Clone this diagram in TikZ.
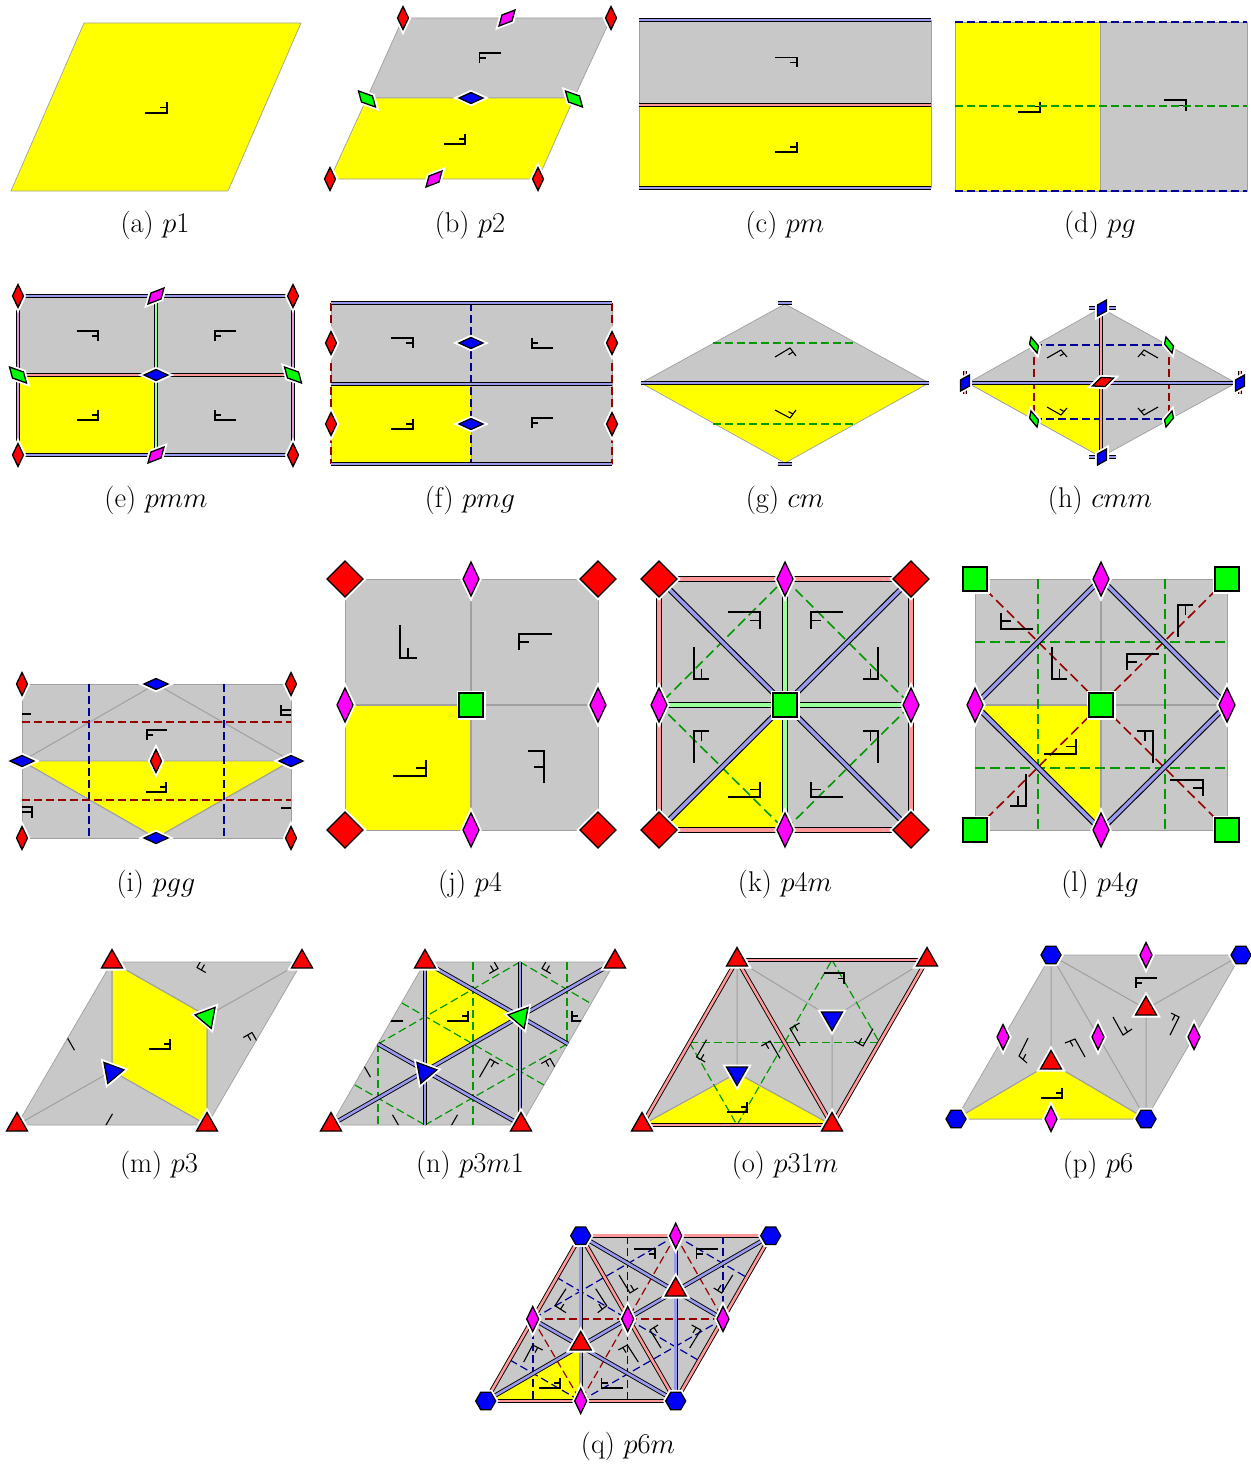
\documentclass[tikz,border=0pt]{standalone}
\usepackage{fix-cm}
\usetikzlibrary{calc}
\definecolor{cy}{HTML}{FFFF00}
\definecolor{cg}{HTML}{C8C8C8}
\definecolor{ln}{HTML}{A0A0A0}
\definecolor{cr}{HTML}{FF0000}
\definecolor{cn}{HTML}{00FF00}
\definecolor{cb}{HTML}{0000FF}
\definecolor{cm}{HTML}{FF00FF}
\definecolor{ib}{HTML}{9999EE}
\definecolor{ip}{HTML}{FF9999}
\definecolor{in}{HTML}{99FF99}
\definecolor{iv}{HTML}{DD99DD}
\definecolor{dg}{HTML}{009900}
\definecolor{dr}{HTML}{990000}
\definecolor{db}{HTML}{000099}
\tikzset{
 cellY/.style={fill=cy,draw=ln,line width=.7pt,line join=round},
 cellG/.style={fill=cg,draw=ln,line width=.7pt,line join=round},
 rib/.style={draw=ln,line width=1pt},
 motif/.style={draw=black,line width=1.1pt,line join=miter},
 bigmotif/.style={motif,line width=1.5pt},
 mirB/.style={draw=black,line width=.9pt,double=ib,double distance=2.6pt},
 mirP/.style={draw=black,line width=.9pt,double=ip,double distance=2.6pt},
 mirN/.style={draw=black,line width=.9pt,double=in,double distance=2.6pt},
 mirV/.style={draw=black,line width=.9pt,double=iv,double distance=2.6pt},
 bigmir/.style={line width=1.1pt,double distance=3.4pt},
 glN/.style={draw=dg,line width=1.2pt,dash pattern=on 8pt off 4pt},
 glR/.style={draw=dr,line width=1.2pt,dash pattern=on 8pt off 4pt},
 glB/.style={draw=db,line width=1.2pt,dash pattern=on 8pt off 4pt},
 bigdash/.style={line width=1.6pt,dash pattern=on 10pt off 5pt},
 halo/.style={draw=white,line width=5pt},
 centre/.style={draw=black,line width=1.3pt},
 caption/.style={inner sep=0pt,font=\fontsize{28.5}{32}\selectfont}
}
% corner x y, long arm, short arm
\newcommand{\mtf}[6]{\draw[motif] ($(#1,#2)+(#3,#4)$) -- (#1,#2) -- ($(#1,#2)+(#5,#6)$) ($(#1,#2)+0.5*(#5,#6)$) -- ($(#1,#2)+0.5*(#5,#6)+0.3*(#3,#4)$);}
\newcommand{\rmb}[7]{\begin{scope}[shift={(#1,#2)}]
 \draw[halo] (#3,#4) -- (#5,#6) -- ({-(#3)},{-(#4)}) -- ({-(#5)},{-(#6)}) -- cycle;
 \draw[centre,fill=#7] (#3,#4) -- (#5,#6) -- ({-(#3)},{-(#4)}) -- ({-(#5)},{-(#6)}) -- cycle;
 \end{scope}}
\newcommand{\trg}[4]{\begin{scope}[shift={(#1,#2)},rotate=#3]
 \draw[halo] (0,-12.5) -- (10.5,6) -- (-10.5,6) -- cycle;
 \draw[centre,fill=#4] (0,-12.5) -- (10.5,6) -- (-10.5,6) -- cycle;
 \end{scope}}
\newcommand{\hxg}[3]{\begin{scope}[shift={(#1,#2)}]
 \draw[halo] (-10,0) -- (-5,-8.7) -- (5,-8.7) -- (10,0) -- (5,8.7) -- (-5,8.7) -- cycle;
 \draw[centre,fill=#3] (-10,0) -- (-5,-8.7) -- (5,-8.7) -- (10,0) -- (5,8.7) -- (-5,8.7) -- cycle;
 \end{scope}}
\newcommand{\sqg}[2]{\begin{scope}[shift={(#1,#2)}]
 \draw[halo] (-12,-12) rectangle (12,12);
 \draw[centre,line width=1.6pt,fill=cn] (-12,-12) rectangle (12,12);
 \end{scope}}
\newcommand{\rv}[2]{\rmb{#1}{#2}{0}{-11.5}{5.5}{0}{cr}}
\newcommand{\bh}[2]{\rmb{#1}{#2}{-12}{0}{0}{5.5}{cb}}
\newcommand{\mgs}[2]{\rmb{#1}{#2}{8}{-8}{5}{3}{cm}}
\newcommand{\grs}[2]{\rmb{#1}{#2}{-8.5}{-8}{5.5}{-3}{cn}}
\newcommand{\rbig}[2]{\rmb{#1}{#2}{0}{-18}{18}{0}{cr}}
\newcommand{\mbig}[2]{\rmb{#1}{#2}{0}{-17}{8}{0}{cm}}
\newcommand{\mmid}[2]{\rmb{#1}{#2}{0}{-12.5}{6}{0}{cm}}
\begin{document}
\begin{tikzpicture}[x=1pt,y=-1pt]
\useasboundingbox (0,0) rectangle (1250,1464);
\fill[white] (0,0) rectangle (1250,1464);

% (a) p1
\draw[cellY] (84,23) -- (301,23) -- (228,191) -- (11,191) -- cycle;
\mtf{167}{113}{-22}{0}{0}{-11}
\node[caption] (capa) at (155,225) {(a) $p1$};

% (b) p2
\draw[cellG] (403,18) -- (611,18) -- (574,98) -- (367,98) -- cycle;
\draw[cellY] (367,98) -- (574,98) -- (538,179) -- (330,179) -- cycle;
\mtf{465}{144}{-21}{0}{0}{-10}
\mtf{479.5}{53}{21}{0}{0}{10}
\rv{403}{18} \rv{611}{18} \rv{330}{179} \rv{538}{179}
\mgs{507}{18} \mgs{434}{179} \grs{367}{99} \grs{574}{99}
\bh{471}{98}
\node[caption] (capb) at (470,225) {(b) $p2$};

% (c) pm
\fill[cg] (639,20) rectangle (931,105);
\fill[cy] (639,105) rectangle (931,188);
\draw[ln,line width=.7pt] (639,20) -- (639,188) (931,20) -- (931,188);
\draw[mirB] (639,20) -- (931,20);
\draw[mirP] (639,105) -- (931,105);
\draw[mirB] (639,188) -- (931,188);
\mtf{797}{152}{-22}{0}{0}{-10}
\mtf{797}{57.5}{-22}{0}{0}{10}
\node[caption] (capc) at (785,225) {(c) $pm$};

% (d) pg
\draw[cellY] (955,22) rectangle (1100,191);
\draw[cellG] (1100,22) rectangle (1247,191);
\mtf{1040}{112}{-22}{0}{0}{-10.5}
\mtf{1186}{100}{-22}{0}{0}{11}
\draw[glN] (955,106) -- (1247,106);
\draw[glB] (955,22) -- (1247,22);
\draw[glB] (955,191) -- (1247,191);
\node[caption] (capd) at (1100,225) {(d) $pg$};

% (e) pmm
\draw[cellG] (18,296) rectangle (293,375);
\draw[cellY] (18,375) rectangle (156,455);
\draw[cellG] (156,375) rectangle (293,455);
\mtf{98}{331}{-21}{0}{0}{10}
\mtf{215}{331}{21}{0}{0}{10}
\mtf{98}{420}{-21}{0}{0}{-10}
\mtf{215}{420}{21}{0}{0}{-10}
\draw[mirV] (18,296) -- (18,455);
\draw[mirV] (293,296) -- (293,455);
\draw[mirN] (156,296) -- (156,455);
\draw[mirB] (18,296) -- (293,296);
\draw[mirB] (18,455) -- (293,455);
\draw[mirP] (18,375) -- (293,375);
\rv{18}{296} \rv{293}{296} \rv{18}{455} \rv{293}{455}
\mgs{156}{296} \mgs{156}{455} \grs{18}{375} \grs{293}{375}
\bh{156}{375}
\node[caption] (cape) at (156,500) {(e) $pmm$};

% (f) pmg
\draw[cellG] (331,303) rectangle (612,384);
\draw[cellY] (331,384) rectangle (471,464);
\draw[cellG] (471,384) rectangle (612,464);
\mtf{413}{338}{-22}{0}{0}{10}
\mtf{532}{348}{21}{0}{0}{-10}
\mtf{413}{429}{-22}{0}{0}{-10}
\mtf{532}{418}{21}{0}{0}{10}
\draw[glR] (331,303) -- (331,464);
\draw[glR] (612,303) -- (612,464);
\draw[glB] (471,303) -- (471,464);
\draw[mirB] (331,303) -- (612,303);
\draw[mirB] (331,384) -- (612,384);
\draw[mirB] (331,464) -- (612,464);
\rv{331}{343} \rv{612}{343} \rv{331}{424} \rv{612}{424}
\bh{471}{343} \bh{471}{424}
\node[caption] (capf) at (470,500) {(f) $pmg$};

% (g) cm
\draw[cellG] (641,383) -- (785,304) -- (929,383) -- cycle;
\draw[cellY] (641,383) -- (785,463) -- (929,383) -- cycle;
\draw[glN] (713,343) -- (857,343);
\draw[glN] (713,424) -- (857,424);
\mtf{790}{348}{-15}{9}{6}{8}
\mtf{790}{418}{-15}{-8}{6}{-8}
\draw[mirB] (641,383) -- (929,383);
\draw[mirB] (778,303) -- (792,303);
\draw[mirB] (778,464) -- (792,464);
\node[caption] (capg) at (785,500) {(g) $cm$};

% (h) cmm
\draw[cellG] (968,383) -- (1101,308) -- (1236,383) -- (1101,457) -- cycle;
\draw[cellY] (968,383) -- (1101,383) -- (1101,457) -- cycle;
\draw[glB] (1034,345) -- (1169,345);
\draw[glB] (1034,419) -- (1169,419);
\draw[glR] (1034,345) -- (1034,419);
\draw[glR] (1169,345) -- (1169,419);
\mtf{1061}{350}{-14}{8}{6}{7}
\mtf{1144}{350}{14}{8}{-6}{7}
\mtf{1061}{415}{-14}{-8}{6}{-7}
\mtf{1144}{415}{14}{-8}{-6}{-7}
\draw[mirB] (965,383) -- (1238,383);
\draw[mirP] (1101,308) -- (1101,457);
\draw[mirB] (1089,308) -- (1116,308);
\draw[mirB] (1089,457) -- (1116,457);
\draw[mirP] (965,371) -- (965,394);
\draw[mirP] (1240,371) -- (1240,394);
\rmb{1102}{308}{4.5}{-8}{-4.5}{-3}{cb}
\rmb{1102}{457}{4.5}{-8}{-4.5}{-3}{cb}
\rmb{965}{383}{4.5}{-8}{-4.5}{-3}{cb}
\rmb{1240}{383}{4.5}{-8}{-4.5}{-3}{cb}
\rmb{1103}{382}{10.5}{-4}{-2}{-4.5}{cr}
\rmb{1034}{345}{-3}{-8}{4.5}{1}{cn}
\rmb{1169}{345}{-3}{-8}{4.5}{1}{cn}
\rmb{1034}{419}{-3}{-8}{4.5}{1}{cn}
\rmb{1169}{419}{3}{-8}{4.5}{-1}{cn}
\node[caption] (caph) at (1100,500) {(h) $cmm$};

% (i) pgg
\draw[cellG] (22,684) rectangle (291,838);
\draw[rib] (22,761) -- (156,684) -- (291,761);
\draw[cellY] (22,761) -- (291,761) -- (156,838) -- cycle;
\draw[rib] (22,761) -- (156,838) -- (291,761);
\draw[glB] (89,684) -- (89,838);
\draw[glB] (224,684) -- (224,838);
\draw[glR] (22,722) -- (291,722);
\draw[glR] (22,800) -- (291,800);
\mtf{166}{792}{-20}{0}{0}{-10}
\mtf{147}{730}{20}{0}{0}{10}
\draw[motif] (22,714) -- (31,714);
\draw[motif] (281,705) -- (281,715) -- (291,715) (281,710) -- (291,710);
\draw[motif] (22,807) -- (32,807) -- (32,818) (32,812) -- (22,812);
\draw[motif] (281,808) -- (291,808);
\rv{22}{684} \rv{291}{684} \rv{22}{838} \rv{291}{838} \rv{156}{761}
\bh{156}{684} \bh{156}{838} \bh{22}{761} \bh{291}{761}
\node[caption] (capi) at (156,884) {(i) $pgg$};

% (j) p4
\draw[cellG] (345,579) rectangle (471,705);
\draw[cellG] (471,579) rectangle (598,705);
\draw[cellY] (345,705) rectangle (471,830);
\draw[cellG] (471,705) rectangle (598,830);
\draw[rib,line width=1.3pt] (471,579) -- (471,830) (345,705) -- (598,705);
\draw[bigmotif] (393,776) -- (426,776) -- (426,760) (426,768) -- (416,768);
\draw[bigmotif] (544,783) -- (544,751) -- (528,751) (544,767) -- (534,767);
\draw[bigmotif] (552,634) -- (519,634) -- (519,650) (519,642) -- (529,642);
\draw[bigmotif] (400,625) -- (400,658) -- (417,658) (408,658) -- (408,648);
\rbig{345}{579} \rbig{598}{579} \rbig{345}{830} \rbig{598}{830}
\mbig{471}{579} \mbig{471}{830} \mbig{345}{705} \mbig{598}{705}
\sqg{471}{705}
\node[caption] (capj) at (470,884) {(j) $p4$};

% (k) p4m
\draw[cellG] (659,579) rectangle (911,830);
\draw[cellY] (785,705) -- (785,830) -- (659,830) -- cycle;
\draw[glN,bigdash] (785,579) -- (911,705) -- (785,830) -- (659,705) -- cycle;
\foreach \cx/\cy/\ax/\ay/\bx/\by in {760/797/-32/0/0/-15,760/612/-32/0/0/17,811/612/32/0/0/17,811/797/32/0/0/-15,694/679/0/-32/15/0,694/731/0/32/15/0,878/679/0/-32/-15/0,878/731/0/32/-15/0}
 {\draw[bigmotif] ($(\cx,\cy)+(\ax,\ay)$) -- (\cx,\cy) -- ($(\cx,\cy)+(\bx,\by)$) ($(\cx,\cy)+0.5*(\bx,\by)$) -- ($(\cx,\cy)+0.5*(\bx,\by)+0.3*(\ax,\ay)$);}
\draw[mirP,bigmir] (659,579) -- (911,579);
\draw[mirP,bigmir] (659,830) -- (911,830);
\draw[mirP,bigmir] (659,579) -- (659,830);
\draw[mirP,bigmir] (911,579) -- (911,830);
\draw[mirN,bigmir] (785,579) -- (785,830);
\draw[mirN,bigmir] (659,705) -- (911,705);
\draw[mirB,bigmir] (659,579) -- (911,830);
\draw[mirB,bigmir] (911,579) -- (659,830);
\rbig{659}{579} \rbig{911}{579} \rbig{659}{830} \rbig{911}{830}
\mbig{785}{579} \mbig{785}{830} \mbig{659}{705} \mbig{911}{705}
\sqg{785}{705}
\node[caption] (capk) at (785,884) {(k) $p4m$};

% (l) p4g
\draw[cellG] (975,579) rectangle (1227,830);
\draw[cellY] (975,705) -- (1101,705) -- (1101,830) -- cycle;
\draw[rib,line width=1.3pt] (1101,579) -- (1101,830) (975,705) -- (1227,705);
\draw[glN,bigdash] (1038,579) -- (1038,830);
\draw[glN,bigdash] (1165,579) -- (1165,830);
\draw[glN,bigdash] (975,642) -- (1227,642);
\draw[glN,bigdash] (975,768) -- (1227,768);
\draw[glR,bigdash] (975,579) -- (1227,830);
\draw[glR,bigdash] (1227,579) -- (975,830);
\foreach \cx/\cy/\ax/\ay/\bx/\by in {1076/754/-32/0/0/-15,1001/629/32/0/0/-16,1052/679/0/-32/15/0,1178/605/0/32/15/0,1127/654/32/0/0/16,1153/731/0/32/-16/0,1203/780/-33/0/0/16,1026/806/0/-32/-16/0}
 {\draw[bigmotif] ($(\cx,\cy)+(\ax,\ay)$) -- (\cx,\cy) -- ($(\cx,\cy)+(\bx,\by)$) ($(\cx,\cy)+0.5*(\bx,\by)$) -- ($(\cx,\cy)+0.5*(\bx,\by)+0.3*(\ax,\ay)$);}
\draw[mirB,bigmir] (1101,579) -- (1227,705) -- (1101,830) -- (975,705) -- cycle;
\sqg{975}{579} \sqg{1227}{579} \sqg{975}{830} \sqg{1227}{830}
\mbig{1101}{579} \mbig{1101}{830} \mbig{975}{705} \mbig{1227}{705}
\sqg{1101}{705}
\node[caption] (capl) at (1100,884) {(l) $p4g$};

% (m) p3
\draw[cellG] (112,962) -- (302,962) -- (207,1125) -- (17,1125) -- cycle;
\draw[cellY] (112,962) -- (207,1016) -- (207,1125) -- (112,1071) -- cycle;
\draw[rib] (302,962) -- (207,1016) (17,1125) -- (112,1071);
\draw[rib] (112,962) -- (207,1016) -- (207,1125) -- (112,1071) -- cycle;
\begin{scope}
\clip (112,962) -- (302,962) -- (207,1125) -- (17,1125) -- cycle;
\mtf{197}{967.5}{10.5}{-18.2}{8.66}{5}
\mtf{252}{1032.5}{10.5}{18.2}{-8.66}{5}
\mtf{102}{1132}{10.5}{-18.2}{8.66}{5}
\mtf{64}{1032}{10.5}{18.2}{-8.66}{5}
\end{scope}
\mtf{170}{1049}{-21}{0}{0}{-10}
\trg{112}{962}{0}{cr} \trg{302}{962}{0}{cr} \trg{17}{1125}{0}{cr} \trg{207}{1125}{0}{cr}
\trg{207}{1017}{-40}{cn} \trg{112}{1072}{40}{cb}
\node[caption] (capm) at (159,1165) {(m) $p3$};

% (n) p3m1
\draw[cellG] (425,962) -- (615,962) -- (521,1125) -- (331,1125) -- cycle;
\draw[cellY] (425,962) -- (520,1016) -- (425,1071) -- cycle;
\draw[glN] (378,1044) -- (378,1125);
\draw[glN] (473,962) -- (473,1125);
\draw[glN] (567,962) -- (567,1044);
\draw[glN] (520,962) -- (378,1044);
\draw[glN] (567,1044) -- (425,1125);
\draw[glN] (402,1003) -- (544,1085);
\draw[glN] (355,1085) -- (425,1125);
\draw[glN] (520,962) -- (590,1003);
\begin{scope}
\clip (425,962) -- (615,962) -- (521,1125) -- (331,1125) -- cycle;
\mtf{468}{1021}{-21}{0}{0}{-10}
\mtf{382}{1021}{21}{0}{0}{-10}
\mtf{572}{1021}{21}{0}{0}{-10}
\mtf{360}{1059}{10.5}{18.2}{-8.66}{5}
\mtf{447}{1133}{10.5}{-18.2}{8.66}{5}
\mtf{542}{968.5}{10.5}{-18.2}{8.66}{5}
\mtf{550}{1058.5}{10.5}{18.2}{-8.66}{5}
\mtf{490}{1059}{-10.5}{18.2}{8.66}{5}
\mtf{403}{1133}{-10.5}{-18.2}{-8.66}{5}
\mtf{498}{968.5}{-10.5}{-18.2}{-8.66}{5}
\end{scope}
\draw[mirB] (425,962) -- (425,1125);
\draw[mirB] (520,962) -- (520,1125);
\draw[mirB] (331,1125) -- (615,962);
\draw[mirB] (425,962) -- (568,1044);
\draw[mirB] (378,1044) -- (521,1125);
\trg{425}{962}{0}{cr} \trg{615}{962}{0}{cr} \trg{331}{1125}{0}{cr} \trg{521}{1125}{0}{cr}
\trg{520}{1017}{-40}{cn} \trg{425}{1072}{40}{cb}
\node[caption] (capn) at (470,1165) {(n) $p3m1$};

% (o) p31m
\draw[cellG] (737,960) -- (927,960) -- (832,1125) -- (642,1125) -- cycle;
\draw[cellY] (642,1125) -- (832,1125) -- (737,1073) -- cycle;
\draw[rib] (737,960) -- (737,1073) (642,1125) -- (737,1073) -- (832,1125);
\draw[rib] (737,960) -- (832,1018) -- (927,960) (832,1125) -- (832,1018);
\draw[glN] (689.5,1042.5) -- (879.5,1042.5);
\draw[glN] (689.5,1042.5) -- (737,1125);
\draw[glN] (737,1125) -- (832,960);
\draw[glN] (832,960) -- (879.5,1042.5);
\mtf{747}{1112}{-20}{0}{0}{-10}
\mtf{696.5}{1057}{10}{-17.3}{8.66}{5}
\mtf{770}{1041}{10}{17.3}{-8.66}{5}
\mtf{844}{973}{-20}{0}{0}{11}
\mtf{863}{1046}{10}{-17.3}{-8.66}{-5}
\mtf{790}{1028.5}{10}{17.3}{9.5}{-5.5}
\draw[mirP] (737,960) -- (927,960);
\draw[mirP] (642,1125) -- (832,1125);
\draw[mirP] (642,1125) -- (737,960);
\draw[mirP] (832,1125) -- (927,960);
\draw[mirP] (737,960) -- (832,1125);
\trg{737}{960}{0}{cr} \trg{927}{960}{0}{cr} \trg{642}{1125}{0}{cr} \trg{832}{1125}{0}{cr}
\trg{737}{1073}{180}{cb} \trg{832}{1018}{180}{cb}
\node[caption] (capo) at (785,1165) {(o) $p31m$};

% (p) p6
\draw[cellG] (1051,955) -- (1241,955) -- (1146,1119) -- (956,1119) -- cycle;
\draw[cellY] (956,1119) -- (1146,1119) -- (1051,1063) -- cycle;
\draw[rib] (1051,955) -- (1051,1063) (956,1119) -- (1051,1063) -- (1146,1119);
\draw[rib] (1051,955) -- (1146,1009) -- (1241,955) (1146,1119) -- (1146,1009);
\draw[rib] (1051,955) -- (1146,1119);
\mtf{1062}{1098}{-21}{0}{0}{-10}
\mtf{1136}{978}{21}{0}{0}{10}
\mtf{1019}{1056}{9}{-18}{8}{7}
\mtf{1075}{1039}{10}{18}{-10}{4}
\mtf{1123}{1035}{-10}{-18}{9}{-6}
\mtf{1179}{1017}{-9}{18}{-8}{-4}
\hxg{956}{1119}{cb} \hxg{1146}{1119}{cb} \hxg{1051}{955}{cb} \hxg{1241}{955}{cb}
\trg{1051}{1063}{0}{cr} \trg{1146}{1009}{0}{cr}
\mmid{1146}{955} \mmid{1051}{1119} \mmid{1003}{1037} \mmid{1098}{1037} \mmid{1194}{1037}
\node[caption] (capp) at (1098,1165) {(p) $p6$};

% (q) p6m
\draw[cellG] (580.7,1235.7) -- (770.7,1235.7) -- (675.7,1401) -- (485.7,1401) -- cycle;
\draw[cellY] (485.7,1401) -- (580.7,1401) -- (580.7,1346) -- cycle;
\draw[glB] (533,1319) -- (533,1401);
\draw[glB] (627.7,1235.7) -- (627.7,1401);
\draw[glB] (723,1235.7) -- (723,1319);
\draw[glB] (675.7,1235.7) -- (532.7,1319);
\draw[glB] (723,1319) -- (580.7,1401);
\draw[glB] (556,1277) -- (698,1360);
\draw[glB] (510,1360) -- (580.7,1401);
\draw[glB] (675.7,1235.7) -- (746,1277);
\draw[glR] (532.7,1319) -- (723,1319);
\draw[glR] (675.7,1235.7) -- (580.7,1401);
\draw[glR] (532.7,1319) -- (580.7,1401);
\draw[glR] (675.7,1235.7) -- (723,1319);
\mtf{560}{1388}{-21}{0}{0}{-10}
\mtf{601.7}{1388}{21}{0}{0}{-10}
\mtf{655}{1249}{-21}{0}{0}{10}
\mtf{696.7}{1249}{21}{0}{0}{10}
\mtf{555}{1305.7}{11}{-17}{11}{7}
\mtf{606.7}{1305.7}{-11}{-17}{-9}{7}
\mtf{630}{1293}{-11}{-18}{8}{-5}
\mtf{721.7}{1293}{11}{-18}{-8}{-5}
\mtf{532.7}{1345}{-9}{17}{10}{5}
\mtf{627.3}{1345}{11}{17}{-9}{5}
\mtf{650}{1330}{11}{18}{8}{-5}
\mtf{700.7}{1330}{-11}{18}{-9}{-5}
\draw[mirP] (580.7,1235.7) -- (770.7,1235.7);
\draw[mirP] (485.7,1401) -- (675.7,1401);
\draw[mirP] (485.7,1401) -- (580.7,1235.7);
\draw[mirP] (675.7,1401) -- (770.7,1235.7);
\draw[mirP] (580.7,1235.7) -- (675.7,1401);
\draw[mirB] (580.7,1235.7) -- (580.7,1401);
\draw[mirB] (675.7,1235.7) -- (675.7,1401);
\draw[mirB] (485.7,1401) -- (770.7,1235.7);
\draw[mirB] (580.7,1235.7) -- (723,1319);
\draw[mirB] (532.7,1319) -- (675.7,1401);
\hxg{485.7}{1401}{cb} \hxg{675.7}{1401}{cb} \hxg{580.7}{1235.7}{cb} \hxg{770.7}{1235.7}{cb}
\trg{580.7}{1344}{0}{cr} \trg{675.7}{1290}{0}{cr}
\mmid{675.7}{1235.7} \mmid{580.7}{1401} \mmid{532.7}{1319} \mmid{627.7}{1319} \mmid{723}{1319}
\node[caption] (capq) at (628,1446) {(q) $p6m$};
\end{tikzpicture}
\end{document}
